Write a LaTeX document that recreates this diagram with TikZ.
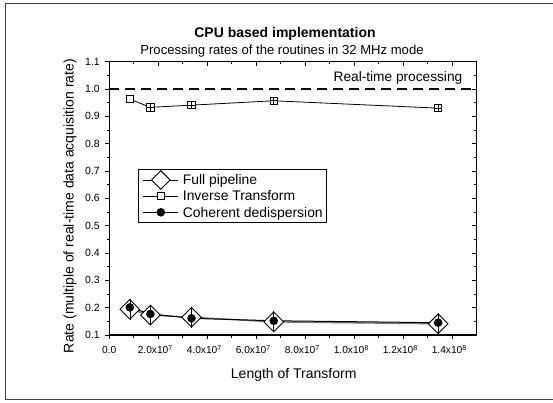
\documentclass[tikz,border=0pt]{standalone}
\usepackage{fontspec}
\setmainfont{Liberation Sans}
\usetikzlibrary{shapes.geometric,backgrounds}
\begin{document}
\begin{tikzpicture}[x=1pt,y=1pt,
  frameline/.style={line width=1.3pt,black!75},
  axisline/.style={line width=1.1pt,black},
  tickline/.style={line width=0.8pt,black},
  ytick/.style={font=\fontsize{10.5}{12}\selectfont,inner sep=0pt,anchor=east},
  xtick/.style={font=\fontsize{10.2}{12}\selectfont,inner sep=0pt,anchor=base},
  bigtext/.style={font=\fontsize{14}{16}\selectfont,inner sep=0pt},
  fpmark/.style={diamond,draw,fill=white,line width=0.9pt,minimum width=20pt,minimum height=20pt,inner sep=0pt,aspect=1},
  cdmark/.style={circle,fill=black,minimum size=8.6pt,inner sep=0pt},
  itmark/.style={rectangle,draw,fill=white,line width=0.8pt,minimum size=7.4pt,inner sep=0pt},
  errbar/.style={line width=0.6pt,black},
  itline/.style={line width=0.8pt,black},
  fpline/.style={line width=1.4pt,black!55},
  cdline/.style={line width=1.0pt,black},
  dashline/.style={line width=2pt,black,dash pattern=on 9.5pt off 6.5pt},
  legline/.style={line width=0.8pt,black}]
\useasboundingbox (0,0) rectangle (553,403);
\begin{pgfonlayer}{background}
\fill[white] (0,0) rectangle (553,403);
\end{pgfonlayer}
% outer frame (open at right)
\draw[frameline] (553,399.7) -- (5.5,399.7) -- (5.5,3.7) -- (553,3.7);

% titles
\node[bigtext,font=\bfseries\fontsize{14}{16}\selectfont,anchor=base] (title) at (285,365.7) {CPU based implementation};
\node[inner sep=0pt,font=\fontsize{13.1}{15}\selectfont,anchor=base] (subtitle) at (282,348.3) {Processing rates of the routines in 32 MHz mode};

\begin{scope}[shift={(109.3,68)},x=24.5pt,y=27.33pt]
  % axes frame
  \draw[axisline] (0,0) rectangle (15,10);
  % x ticks
  \foreach \i in {0,2,...,14} {
    \draw[tickline] (\i,0) -- ++(0,-4.5pt);
    \draw[tickline] (\i,10) -- ++(0,-4.5pt);
  }
  \foreach \i in {1,3,...,13} {
    \draw[tickline] (\i,0) -- ++(0,-2.6pt);
    \draw[tickline] (\i,10) -- ++(0,-2.6pt);
  }
  % y ticks
  \foreach \j in {0,...,10} {
    \draw[tickline] (0,\j) -- ++(-4.5pt,0);
    \draw[tickline] (15,\j) -- ++(-4.5pt,0);
  }
  \foreach \j in {0.5,1.5,...,9.5} {
    \draw[tickline] (0,\j) -- ++(-2.6pt,0);
    \draw[tickline] (15,\j) -- ++(-2.6pt,0);
  }
  % y tick labels
  \foreach \j/\lab in {0/0.1,1/0.2,2/0.3,3/0.4,4/0.5,5/0.6,6/0.7,7/0.8,8/0.9,9/1.0,10/1.1} {
    \node[ytick] (yl\j) at ([xshift=-9.3pt]0,\j) {\lab};
  }
  % x tick labels
  \node[xtick] (xl0) at ([yshift=-19pt]0,0) {0.0};
  \foreach \i/\m/\e in {2/2.0/7,4/4.0/7,6/6.0/7,8/8.0/7,10/1.0/8,12/1.2/8,14/1.4/8} {
    \node[xtick] (xl\i) at ([xshift=-3pt,yshift=-19pt]\i,0) {\m x10\textsuperscript{\e}};
  }

  % real-time line
  \coordinate (rtA) at (0,9);
  \coordinate (rtB) at (15,9);
  \draw[dashline] (rtA) -- (rtB);

  % Inverse Transform
  \node[itmark] (it1) at (0.8389,8.63) {};
  \node[itmark] (it2) at (1.6777,8.33) {};
  \node[itmark] (it3) at (3.3554,8.41) {};
  \node[itmark] (it4) at (6.7109,8.57) {};
  \node[itmark] (it5) at (13.4218,8.30) {};
  \foreach \k in {2,...,5} {
    \draw[errbar] (it\k.north) -- (it\k.south);
    \draw[errbar] (it\k.west) -- (it\k.east);
  }

  % Full pipeline
  \node[fpmark] (fp1) at (0.8389,0.94) {};
  \node[fpmark] (fp2) at (1.6777,0.73) {};
  \node[fpmark] (fp3) at (3.3554,0.65) {};
  \node[fpmark] (fp4) at (6.7109,0.48) {};
  \node[fpmark] (fp5) at (13.4218,0.41) {};
  \foreach \k in {1,...,5} {
    \draw[errbar] (fp\k.north) -- (fp\k.south);
  }
  % Coherent dedispersion
  \node[cdmark] (cd1) at (0.8389,1.01) {};
  \node[cdmark] (cd2) at (1.6777,0.77) {};
  \node[cdmark] (cd3) at (3.3554,0.61) {};
  \node[cdmark] (cd4) at (6.7109,0.52) {};
  \node[cdmark] (cd5) at (13.4218,0.45) {};

  \begin{pgfonlayer}{background}
    \draw[itline] (it1.center) -- (it2.center) -- (it3.center) -- (it4.center) -- (it5.center);
    \draw[fpline] (fp1.center) -- (fp2.center) -- (fp3.center) -- (fp4.center) -- (fp5.center);
    \draw[cdline] (cd1.center) -- (cd2.center) -- (cd3.center) -- (cd4.center) -- (cd5.center);
  \end{pgfonlayer}
\end{scope}

% Real-time processing label
\node[bigtext,font=\fontsize{13.7}{16}\selectfont,anchor=base east] (rtlabel) at (462.5,321.5) {Real-time processing};

% axis titles
\node[bigtext,anchor=base] (xtitle) at (293.7,24.7) {Length of Transform};
\node[bigtext,rotate=90] (ytitle) at (70,197) {Rate (multiple of real-time data acquisition rate)};

% legend
\node[draw,line width=0.8pt,fill=white,minimum width=188.3pt,minimum height=53pt,inner sep=0pt,anchor=north west] (legend) at (137.7,233.7) {};
\coordinate (la1) at (143.3,223); \coordinate (lb1) at (178.3,223);
\coordinate (la2) at (143.3,207); \coordinate (lb2) at (178.3,207);
\coordinate (la3) at (143.3,190.7); \coordinate (lb3) at (178.3,190.7);
\draw[legline] (la1) -- (lb1);
\draw[legline] (la2) -- (lb2);
\draw[legline] (la3) -- (lb3);
\node[fpmark,minimum width=19pt,minimum height=19pt] (lg1) at (160.8,223) {};
\node[itmark] (lg2) at (160.8,207) {};
\node[cdmark] (lg3) at (160.8,190.7) {};
\node[bigtext,font=\fontsize{13.9}{16}\selectfont,anchor=base west] (lt1) at (182.7,218) {Full pipeline};
\node[bigtext,font=\fontsize{13.9}{16}\selectfont,anchor=base west] (lt2) at (182.7,202) {Inverse Transform};
\node[bigtext,font=\fontsize{13.9}{16}\selectfont,anchor=base west] (lt3) at (182.7,185.7) {Coherent dedispersion};
\end{tikzpicture}
\end{document}
